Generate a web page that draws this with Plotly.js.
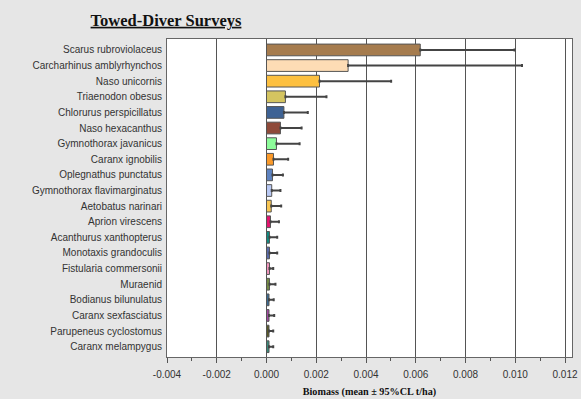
<!DOCTYPE html>
<html><head><meta charset="utf-8">
<script src="https://cdn.plot.ly/plotly-3.0.1.min.js"></script>
<style>body{margin:0;background:#e6e6e6}</style>
</head><body>
<div id="chart" style="width:581px;height:399px"></div>
<script>
const species = ["Scarus rubroviolaceus","Carcharhinus amblyrhynchos","Naso unicornis","Triaenodon obesus","Chlorurus perspicillatus","Naso hexacanthus","Gymnothorax javanicus","Caranx ignobilis","Oplegnathus punctatus","Gymnothorax flavimarginatus","Aetobatus narinari","Aprion virescens","Acanthurus xanthopterus","Monotaxis grandoculis","Fistularia commersonii","Muraenid","Bodianus bilunulatus","Caranx sexfasciatus","Parupeneus cyclostomus","Caranx melampygus"];
const labels = ["Scarus rubroviolaceus","Carcharhinus amblyrhynchos","Naso unicornis","Triaenodon obesus","Chlorurus perspicillatus","Naso hexacanthus","Gymnothorax javanicus","Caranx ignobilis","Oplegnathus punctatus","Gymnothorax flavimarginatus","Aetobatus narinari","Aprion virescens","Acanthurus xanthopterus","Monotaxis grandoculis","Fistularia commersonii","Muraenid","Bodianus bilunulatus","Caranx sexfasciatus","Parupeneus cyclostomus","Caranx melampygus"];
const meanBiomass = [0.00618,0.00328,0.00213,0.00076,0.00070,0.00056,0.00040,0.00028,0.00024,0.00021,0.00019,0.00016,0.00012,0.00012,0.00012,0.00012,0.00010,0.00010,0.00010,0.00010];
const upperCL = [0.00997,0.01027,0.00501,0.00241,0.00166,0.00141,0.00133,0.00087,0.00066,0.00056,0.00059,0.00050,0.00043,0.00043,0.00027,0.00036,0.00029,0.00031,0.00027,0.00027];
const barColors = ["#a67c4e","#fddcb5","#fdc040","#d4c460","#3e6294","#8f4a3a","#8dfc9a","#fb9a2a","#5e83c0","#b9c9f4","#f8c653","#e3146e","#138a80","#5a6aa8","#f094bc","#748a45","#3c6a90","#a049a0","#5a5a28","#3a8a7a"];
const xTicks = [-0.004,-0.002,0,0.002,0.004,0.006,0.008,0.010,0.012];

const plusErr = meanBiomass.map((m,i)=>upperCL[i]-m);
const zeros = meanBiomass.map(()=>0);

const trace = {
  type:'bar', orientation:'h',
  x: meanBiomass, y: species,
  width: 0.75,
  marker:{color:barColors, line:{color:'#555555', width:1}},
  error_x:{type:'data', symmetric:false, array:plusErr, arrayminus:zeros, color:'#444444', thickness:2, width:1.5},
  hoverinfo:'none'
};

const layout = {
  width:581, height:399,
  paper_bgcolor:'#e6e6e6', plot_bgcolor:'#ffffff',
  margin:{l:167, r:9, t:39, b:42},
  showlegend:false,
  title:{text:'<b><u>Towed-Diver Surveys</u></b>', x:166/581, xanchor:'center', y:1-20/399, yanchor:'middle',
    font:{family:'Liberation Serif, Times New Roman, serif', size:16.5, color:'#111111'}},
  xaxis:{range:[-0.004,0.01228], tickvals:xTicks, ticktext:xTicks.map(v=>v.toFixed(3)),
    showgrid:true, gridcolor:'#555555', gridwidth:1, zeroline:false,
    showline:true, linecolor:'#666666', linewidth:1, mirror:true,
    ticks:'outside', ticklen:5, tickcolor:'#555555', ticklabelstandoff:3,
    minor:{dtick:0.001, ticks:'outside', ticklen:3, tickcolor:'#555555', showgrid:false},
    tickfont:{family:'Liberation Sans, Arial, sans-serif', size:10, color:'#333333'},
    title:{text:'<b>Biomass (mean ± 95%CL t/ha)</b>', standoff:8,
      font:{family:'Liberation Serif, Times New Roman, serif', size:10.2, color:'#111111'}}},
  yaxis:{type:'category', range:[19.66,-0.7], tickvals:species, ticktext:labels,
    showgrid:false, zeroline:false, showline:true, linecolor:'#666666', linewidth:1, mirror:true,
    ticks:'', ticklabelstandoff:2,
    tickfont:{family:'Liberation Sans, Arial, sans-serif', size:10, color:'#333333'}}
};

Plotly.newPlot('chart',[trace],layout,{displayModeBar:false, staticPlot:true});
</script>
</body></html>
